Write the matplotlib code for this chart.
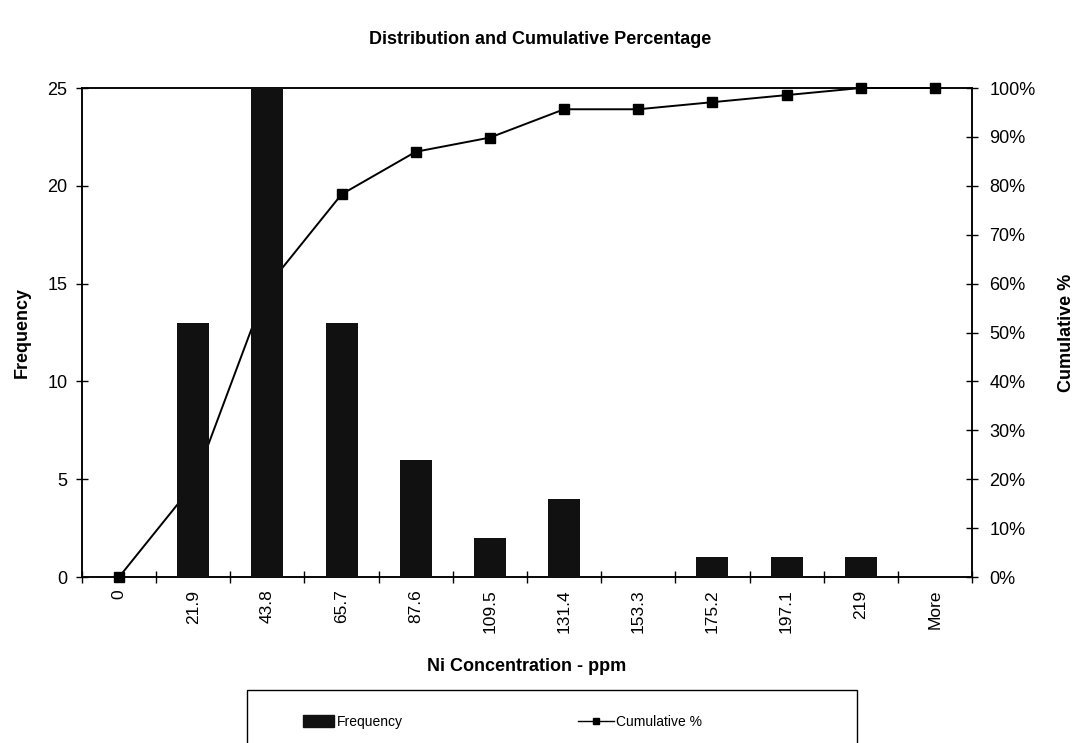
import numpy as np
import matplotlib
matplotlib.use("Agg")
from matplotlib import pyplot as plt
from matplotlib.patches import Rectangle, Patch
from matplotlib.lines import Line2D

plt.rcParams['font.family'] = ['Liberation Sans', 'DejaVu Sans']

bins = ['0', '21.9', '43.8', '65.7', '87.6', '109.5', '131.4', '153.3',
        '175.2', '197.1', '219', 'More']
frequency = [0, 13, 28, 13, 6, 2, 4, 0, 1, 1, 1, 0]
cumulative = [0, 18.84, 59.42, 78.26, 86.96, 89.86, 95.65, 95.65,
              97.10, 98.55, 100, 100]

W, H = 1077, 743
fig = plt.figure(figsize=(W / 100, H / 100), dpi=100)
ax = fig.add_axes([82 / W, 1 - 577 / H, (972 - 82) / W, (577 - 88) / H])
ax2 = ax.twinx()

x = np.arange(len(bins))

# cumulative line sits behind the bars
ax2.plot(x, cumulative, color='black', lw=1.4, marker='s', ms=6.5,
         markerfacecolor='black', clip_on=False, zorder=2)
ax2.set_ylim(0, 100)
ax2.set_yticks(np.arange(0, 101, 10))
ax2.set_yticklabels([f'{v}%' for v in range(0, 101, 10)])

ax.set_zorder(ax2.get_zorder() + 1)
ax.patch.set_visible(False)
ax.bar(x, frequency, width=0.43, color='#111111', zorder=3)
ax.set_ylim(0, 25)
ax.set_xlim(-0.5, len(bins) - 0.5)
ax.set_yticks([0, 5, 10, 15, 20, 25])

# tick marks at bin edges, labels at bin centres
ax.set_xticks(np.arange(-0.5, len(bins), 1))
ax.set_xticklabels([])
ax.set_xticks(x, minor=True)
ax.set_xticklabels(bins, minor=True, rotation=90)
ax.tick_params(axis='x', which='minor', length=0, pad=9, labelsize=12.5)
ax.tick_params(axis='x', which='major', direction='inout', length=9, width=1)
ax.tick_params(axis='y', direction='inout', length=9, width=1, labelsize=13, pad=6)
ax2.tick_params(axis='y', direction='inout', length=9, width=1, labelsize=13, pad=8)

for a in (ax, ax2):
    for s in a.spines.values():
        s.set_linewidth(1.1)

ax.set_ylabel('Frequency', fontsize=13, fontweight='bold', labelpad=12)
ax2.set_ylabel('Cumulative %', fontsize=13, fontweight='bold', labelpad=16)
ax.set_xlabel('Ni Concentration - ppm', fontsize=13, fontweight='bold', labelpad=18)
fig.text(540 / W, 1 - 40 / H, 'Distribution and Cumulative Percentage',
         ha='center', va='center', fontsize=13, fontweight='bold')

# legend box running off the bottom edge
fig.patches.append(Rectangle((247 / W, -0.05), (857 - 247) / W, (743 - 690) / H + 0.05,
                             transform=fig.transFigure, fill=False, lw=1, ec='black'))
fig.legend(handles=[Patch(color='#111111', label='Frequency')],
           loc='center left', bbox_to_anchor=(290 / W, 1 - 722 / H),
           frameon=False, fontsize=10, handlelength=2.3, handleheight=0.9,
           handletextpad=0.15)
fig.legend(handles=[Line2D([], [], color='black', lw=1, marker='s', ms=5,
                           label='Cumulative %')],
           loc='center left', bbox_to_anchor=(565 / W, 1 - 722 / H),
           frameon=False, fontsize=10, handlelength=2.6, handletextpad=0.2)

fig.savefig('out.png', dpi=100)
